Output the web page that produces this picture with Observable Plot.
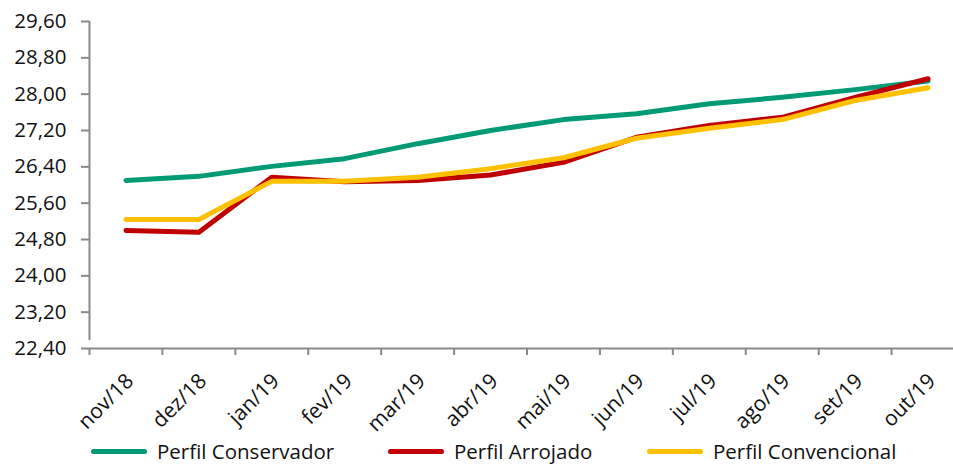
<!DOCTYPE html>
<html><head><meta charset="utf-8">
<script src="https://cdn.jsdelivr.net/npm/d3@7"></script>
<script src="https://cdn.jsdelivr.net/npm/@observablehq/plot@0.6"></script>
<style>
body{margin:0;background:#fff;font-family:"Open Sans",sans-serif;}
#wrap{position:relative;width:953px;height:464px;overflow:hidden;background:#fff;}
#legend{position:absolute;left:0;top:440px;width:953px;height:24px;}
.item{position:absolute;top:-1px;height:24px;display:flex;align-items:center;font-size:20.5px;color:#111;white-space:nowrap;}
.sw{display:inline-block;width:56px;height:5px;border-radius:3px;margin-right:10px;}
</style></head><body><div id="wrap"><div id="chart"></div><div id="legend"></div></div>
<script>
const months = ["nov/18","dez/18","jan/19","fev/19","mar/19","abr/19","mai/19","jun/19","jul/19","ago/19","set/19","out/19"];
const conservador = [26.10, 26.19, 26.41, 26.58, 26.91, 27.20, 27.44, 27.57, 27.79, 27.93, 28.10, 28.29];
const arrojado = [25.00, 24.96, 26.17, 26.07, 26.10, 26.22, 26.50, 27.05, 27.31, 27.49, 27.93, 28.34];
const convencional = [25.24, 25.24, 26.08, 26.08, 26.17, 26.36, 26.60, 27.03, 27.25, 27.44, 27.86, 28.14];
const yTicks = [22.4, 23.2, 24.0, 24.8, 25.6, 26.4, 27.2, 28.0, 28.8, 29.6];
const seriesNames = ["Perfil Conservador", "Perfil Arrojado", "Perfil Convencional"];
const seriesColors = ["#009A74", "#C00000", "#FFC000"];
const legendLeft = [91, 388, 647];

const seriesValues = [conservador, arrojado, convencional];
const rows = seriesNames.flatMap((s, k) => months.map((m, i) => ({series: s, i, value: seriesValues[k][i]})));
const idx = months.map((m, i) => i);
const bounds = months.map((m, i) => i - 0.5).concat([months.length - 0.5]);
const axisColor = "#898989";

const chart = Plot.plot({
  width: 953,
  height: 440,
  marginLeft: 89,
  marginTop: 21,
  marginBottom: 92,
  marginRight: 0,
  style: {fontFamily: "'Open Sans', sans-serif", background: "#fff", overflow: "visible"},
  x: {type: "linear", domain: [-0.5, months.length - 0.5], range: [89, 964]},
  y: {domain: [22.4, 29.6]},
  color: {domain: seriesNames, range: seriesColors},
  marks: [
    Plot.ruleX([-0.5], {y1: 22.4, y2: 29.6, insetTop: -8, stroke: axisColor, strokeWidth: 2}),
    Plot.ruleY([22.4], {x1: -0.5, x2: months.length - 0.5, stroke: axisColor, strokeWidth: 2}),
    Plot.axisY({ticks: yTicks, tickSize: 8, tickPadding: 15, tickFormat: d => d.toFixed(2).replace(".", ","), fontSize: 20.5, stroke: axisColor, strokeWidth: 2, fill: "#111", label: null}),
    Plot.axisX({ticks: bounds, tickSize: 7, tickFormat: () => "", stroke: axisColor, strokeWidth: 2, label: null}),
    Plot.axisX({ticks: idx, tickSize: 0, tickPadding: 29, dx: 4, tickRotate: -45, tickFormat: i => months[i], fontSize: 21, fill: "#111", label: null}),
    Plot.lineY(rows, {x: "i", y: "value", z: "series", stroke: "series", strokeWidth: 5, strokeLinecap: "round", strokeLinejoin: "round"})
  ]
});
document.getElementById("chart").appendChild(chart);

const legend = document.getElementById("legend");
seriesNames.forEach((s, k) => {
  const it = document.createElement("div");
  it.className = "item";
  it.style.left = legendLeft[k] + "px";
  const sw = document.createElement("span");
  sw.className = "sw";
  sw.style.background = seriesColors[k];
  it.appendChild(sw);
  it.appendChild(document.createTextNode(s));
  legend.appendChild(it);
});
</script></body></html>
